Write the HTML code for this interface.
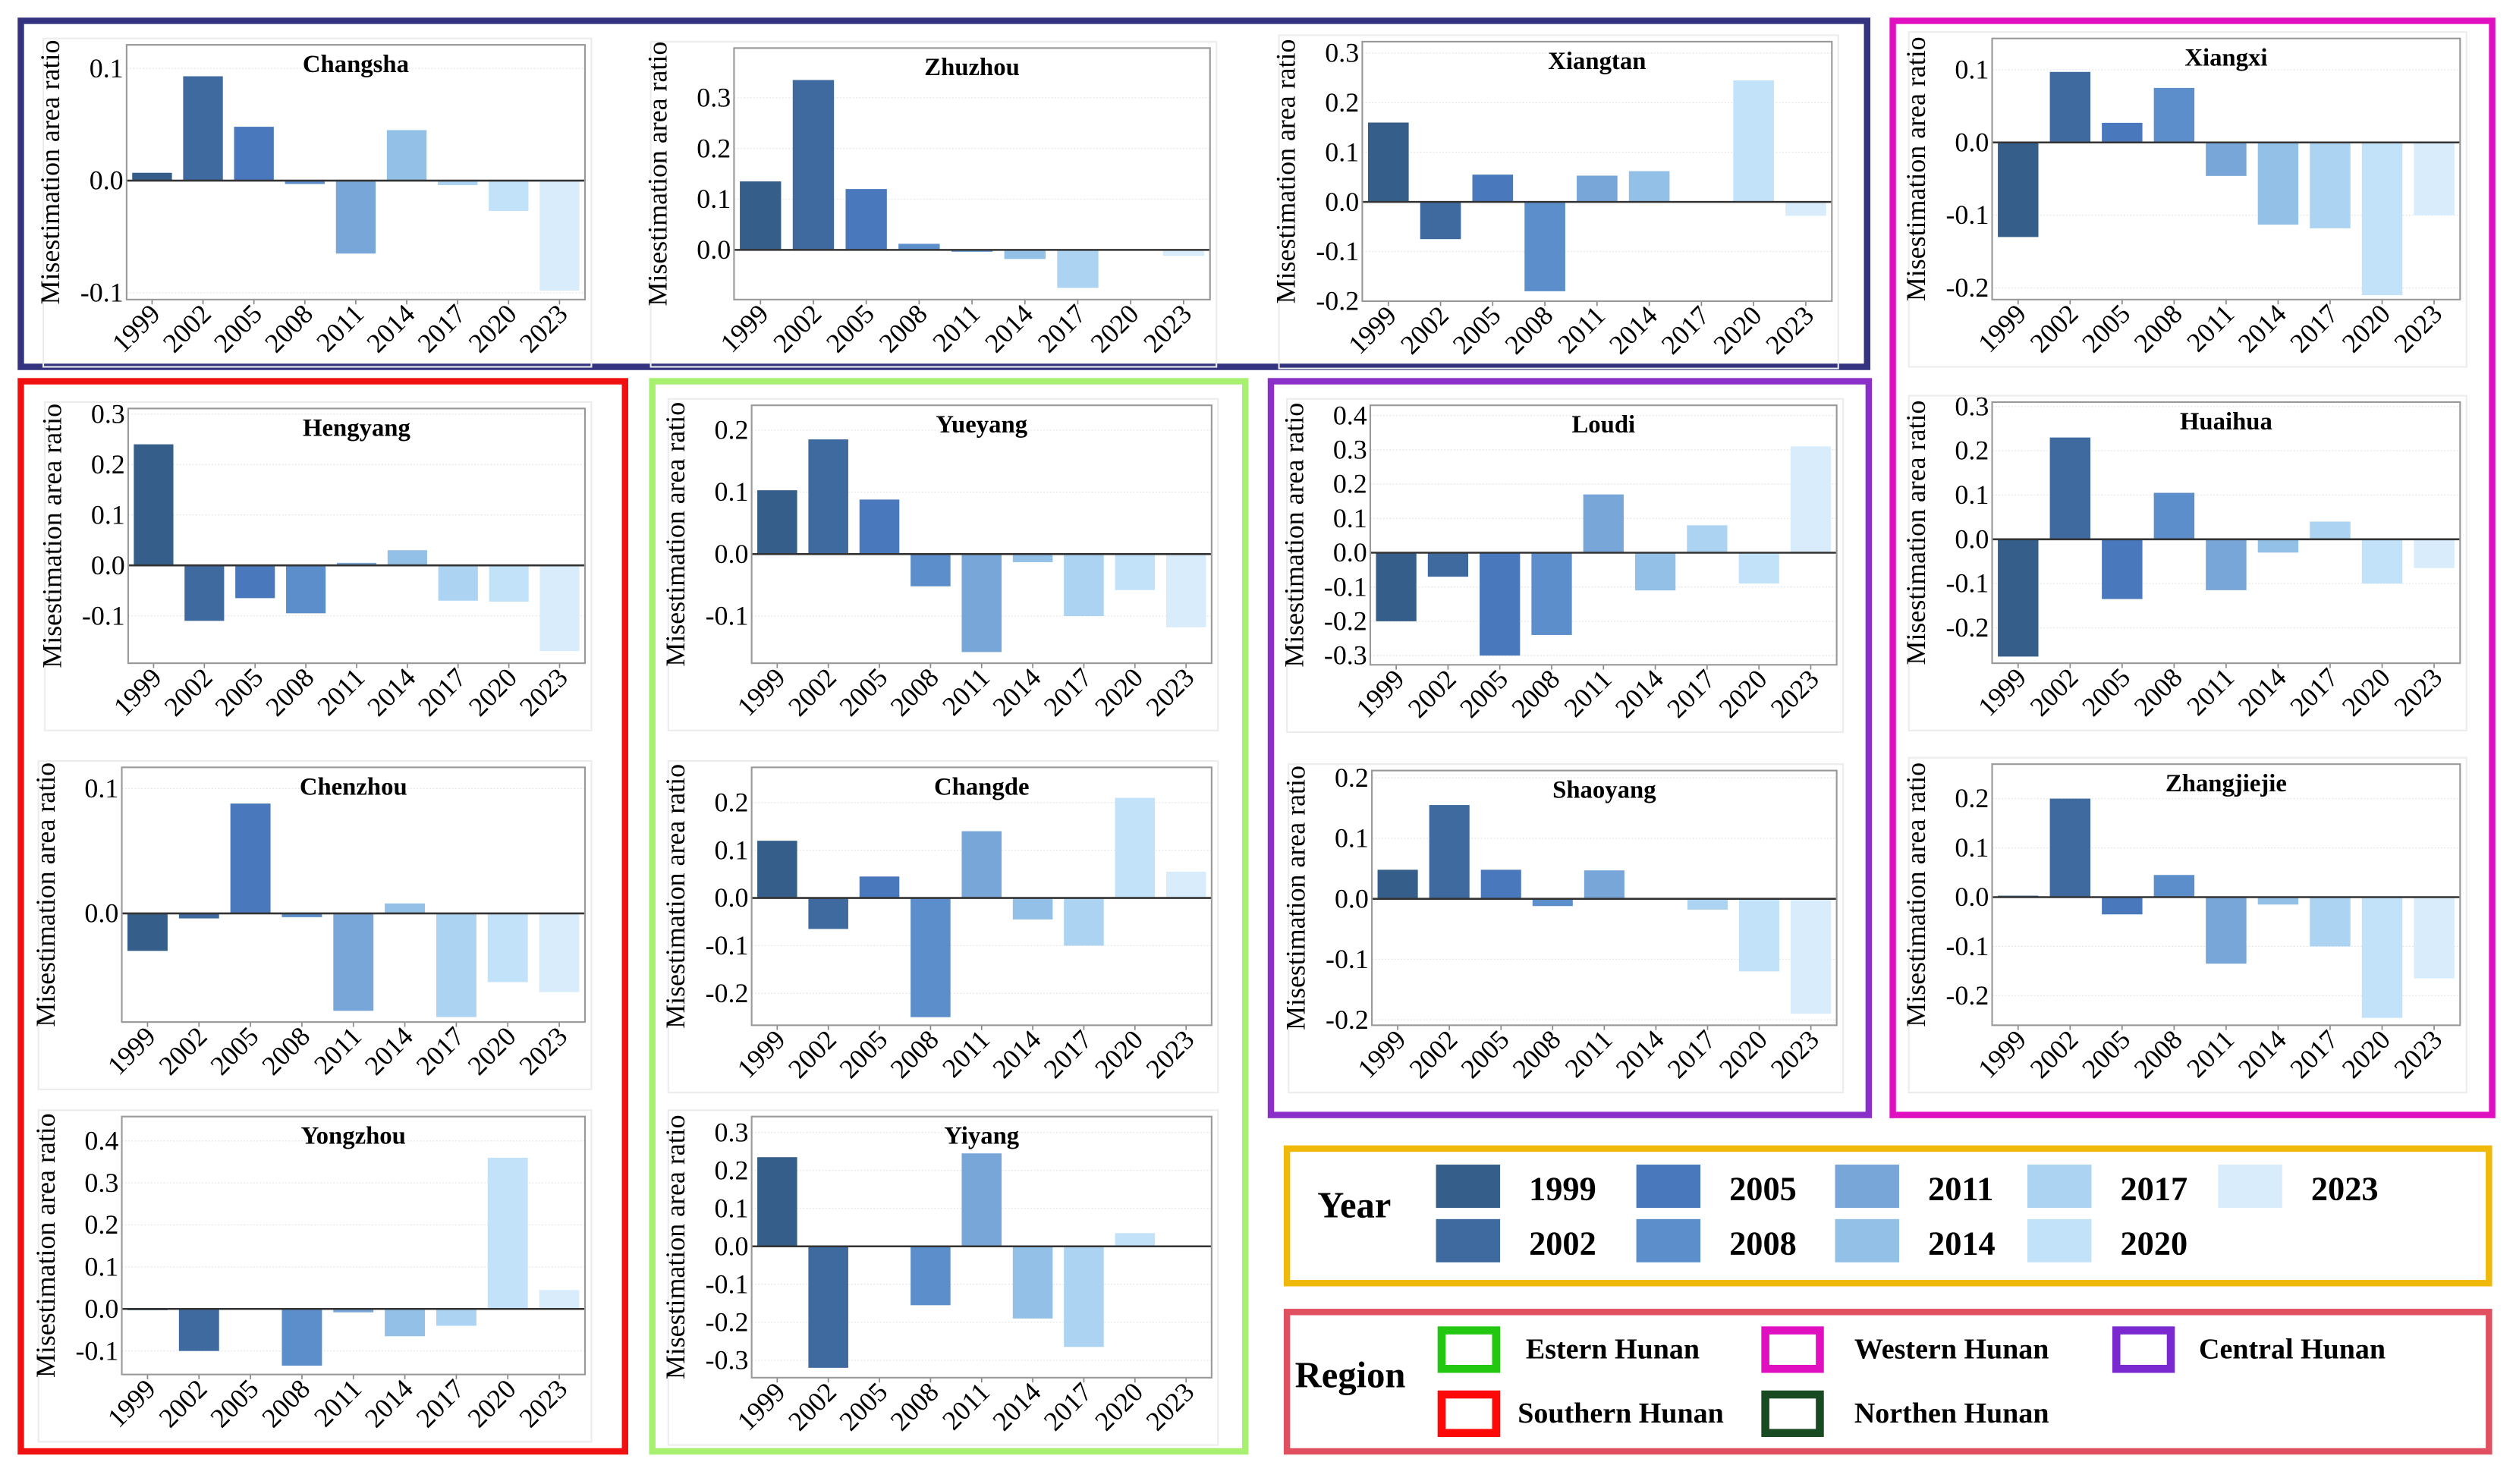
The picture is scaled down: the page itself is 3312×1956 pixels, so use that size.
<!DOCTYPE html>
<html><head><meta charset="utf-8"><style>
html,body{margin:0;padding:0;background:#fff;}
svg, svg text{font-family:"Liberation Serif","DejaVu Serif",serif;}
</style></head><body>
<svg id="fig" width="3312" height="1951" viewBox="0 0 1568 924" preserveAspectRatio="none" xmlns="http://www.w3.org/2000/svg" font-family="Liberation Serif, serif">
<rect x="0" y="0" width="1568" height="924" fill="#fff"/>
<g id="frames" fill="none" stroke-width="4">
<rect x="13" y="13" width="1152" height="216" stroke="#33337f"/>
<rect x="1181" y="13" width="374" height="683" stroke="#e010c0"/>
<rect x="13" y="238" width="377" height="668" stroke="#f01010"/>
<rect x="407" y="238" width="370" height="668" stroke="#a8f070"/>
<rect x="793" y="238" width="373" height="458" stroke="#8a30c8"/>
<rect x="803" y="717" width="750" height="84" stroke="#f0b808"/>
<rect x="803" y="819" width="750" height="87" stroke="#e05060"/>
</g>
<g id="panels"></g>
<g id="legend" font-weight="bold" fill="#000">
<text x="822" y="760" font-size="23" font-family="Liberation Serif, serif">Year</text>
<text x="808" y="866" font-size="23" font-family="Liberation Serif, serif">Region</text>
</g>
</svg>
<script>
const years = ["1999","2002","2005","2008","2011","2014","2017","2020","2023"];
const colors = ["#355f8a","#3e6aa0","#4a78bc","#5b8ecb","#78a6d8","#92c0e6","#acd4f2","#c2e2fa","#d8ecfb"];
const cities = ["Changsha","Zhuzhou","Xiangtan","Xiangxi","Hengyang","Yueyang","Loudi","Huaihua","Chenzhou","Changde","Shaoyang","Zhangjiejie","Yongzhou","Yiyang"];
const valChangsha = [0.007,0.093,0.048,-0.003,-0.065,0.045,-0.004,-0.027,-0.098];
const valZhuzhou = [0.135,0.335,0.12,0.012,-0.004,-0.018,-0.075,0,-0.012];
const valXiangtan = [0.16,-0.075,0.055,-0.18,0.053,0.062,0,0.245,-0.028];
const valXiangxi = [-0.13,0.097,0.027,0.075,-0.046,-0.113,-0.118,-0.21,-0.10];
const valHengyang = [0.24,-0.11,-0.065,-0.095,0.005,0.03,-0.07,-0.072,-0.17];
const valYueyang = [0.103,0.185,0.088,-0.052,-0.158,-0.013,-0.10,-0.058,-0.118];
const valLoudi = [-0.20,-0.07,-0.30,-0.24,0.17,-0.11,0.08,-0.09,0.31];
const valHuaihua = [-0.265,0.23,-0.135,0.105,-0.115,-0.03,0.04,-0.10,-0.065];
const valChenzhou = [-0.03,-0.004,0.088,-0.003,-0.078,0.008,-0.083,-0.055,-0.063];
const valChangde = [0.12,-0.065,0.045,-0.25,0.14,-0.045,-0.10,0.21,0.055];
const valShaoyang = [0.048,0.155,0.048,-0.012,0.047,0,-0.018,-0.12,-0.19];
const valZhangjiejie = [0.003,0.20,-0.035,0.045,-0.135,-0.015,-0.10,-0.245,-0.165];
const valYongzhou = [-0.003,-0.10,-0.002,-0.135,-0.008,-0.065,-0.04,0.36,0.045];
const valYiyang = [0.235,-0.32,0,-0.155,0.245,-0.19,-0.265,0.035,0.003];
const seriesValues = [valChangsha,valZhuzhou,valXiangtan,valXiangxi,valHengyang,valYueyang,valLoudi,valHuaihua,valChenzhou,valChangde,valShaoyang,valZhangjiejie,valYongzhou,valYiyang];
const yDomains = [[-0.106,0.121],[-0.098,0.398],[-0.2,0.323],[-0.216,0.143],[-0.194,0.311],[-0.176,0.24],[-0.327,0.43],[-0.28,0.31],[-0.087,0.117],[-0.267,0.274],[-0.209,0.212],[-0.26,0.27],[-0.156,0.458],[-0.346,0.342]];
const tickLabels = [["-0.1","0.0","0.1"],["0.0","0.1","0.2","0.3"],["-0.2","-0.1","0.0","0.1","0.2","0.3"],["-0.2","-0.1","0.0","0.1"],["-0.1","0.0","0.1","0.2","0.3"],["-0.1","0.0","0.1","0.2"],["-0.3","-0.2","-0.1","0.0","0.1","0.2","0.3","0.4"],["-0.2","-0.1","0.0","0.1","0.2","0.3"],["0.0","0.1"],["-0.2","-0.1","0.0","0.1","0.2"],["-0.2","-0.1","0.0","0.1","0.2"],["-0.2","-0.1","0.0","0.1","0.2"],["-0.1","0.0","0.1","0.2","0.3","0.4"],["-0.3","-0.2","-0.1","0.0","0.1","0.2","0.3"]];
const boxes = [[79,28,365,187],[458,30,755,187],[850,26,1143,188],[1243,24,1535,187],[80,255,365,414],[469,253,756,414],[855,253,1146,415],[1243,251,1535,414],[76,479,365,638],[469,479,756,640],[856,481,1146,640],[1243,477,1535,640],[76,697,365,858],[469,697,756,860]];
const NS="http://www.w3.org/2000/svg";
const FF="Liberation Serif, DejaVu Serif, serif";
function mk(tag,attrs,parent){const e=document.createElementNS(NS,tag);for(const k in attrs)e.setAttribute(k,attrs[k]);if(tag==='text')e.setAttribute('font-family',FF);parent.appendChild(e);return e;}
const panels=document.getElementById('panels');
cities.forEach((city,i)=>{
  const [x0,y0,x1,y1]=boxes[i];const [d0,d1]=yDomains[i];
  const ys=v=>y1-(v-d0)/(d1-d0)*(y1-y0);
  const g=mk('g',{},panels);
  
  
  const outer=mk('rect',{x:x0-52,y:y0-4,width:x1-x0+56,height:y1-y0+46,fill:'none',stroke:'#ececec','stroke-width':1},g);
  
  
  tickLabels[i].forEach(t=>{
    const v=parseFloat(t);const y=ys(v);
    const gl=mk('line',{x1:x0,x2:x1,y1:y,y2:y,stroke:'#e8e8e8','stroke-width':0.6,'stroke-dasharray':'1,1'},g);
    
    
    const tl=mk('text',{x:x0-2,y:y+5.5,'text-anchor':'end','font-size':17},g);
    tl.textContent=t;
    
    
  });
  const bw=(x1-x0)/9;
  seriesValues[i].forEach((v,j)=>{
    const cx=x0+bw*(j+0.5);const yz=ys(0),yv=ys(v);
    const r=mk('rect',{x:cx-bw*0.39,y:Math.min(yz,yv),width:bw*0.78,height:Math.max(0.3,Math.abs(yv-yz)),fill:colors[j]},g);
    
    
    const tk=mk('line',{x1:cx,x2:cx,y1:y1,y2:y1+3,stroke:'#888','stroke-width':0.8},g);
    
    
    const xl=mk('text',{x:0,y:0,'text-anchor':'end','font-size':17,transform:`translate(${cx+6},${y1+10}) rotate(-45)`},g);
    xl.textContent=years[j];
    
    
  });
  const zl=mk('line',{x1:x0,x2:x1,y1:ys(0),y2:ys(0),stroke:'#333','stroke-width':1.2},g);
  
  
  const ax=mk('rect',{x:x0,y:y0,width:x1-x0,height:y1-y0,fill:'none',stroke:'#999','stroke-width':1},g);
  
  
  const ti=mk('text',{x:(x0+x1)/2,y:y0+17,'text-anchor':'middle','font-size':15.5,'font-weight':'bold'},g);
  ti.textContent=city;
  
  
  const yl=mk('text',{x:0,y:0,'text-anchor':'middle','font-size':17,transform:`translate(${x0-42},${(y0+y1)/2}) rotate(-90)`},g);
  yl.textContent='Misestimation area ratio';
  
  
});
const lg=document.getElementById('legend');
const legX=[896,1021,1145,1265,1384];
years.forEach((yr,j)=>{
  const col=Math.floor(j/2),row=j%2;
  const sx=legX[col],sy=row?761:727;
  const s=mk('rect',{x:sx,y:sy,width:40,height:27,fill:colors[j]},lg);
  
  
  const t=mk('text',{x:sx+58,y:sy+22,'font-size':21},lg);
  t.textContent=yr;
  
  
});
const regNames=["Estern Hunan","Western Hunan","Central Hunan","Southern Hunan","Northen Hunan"];
const regColors=["#22c810","#e010c0","#7a28d0","#ff0808","#1a4a22"];
const regPos=[[897,828,952],[1099,828,1157],[1318,828,1372],[897,868,947],[1099,868,1157]];
regNames.forEach((n,k)=>{
  const [sx,sy,tx]=regPos[k];
  const s=mk('rect',{x:sx+2.5,y:sy+2.5,width:34,height:24,fill:'#fff',stroke:regColors[k],'stroke-width':5},lg);
  
  
  const t=mk('text',{x:tx,y:sy+20,'font-size':18},lg);
  t.textContent=n;
  
  
});
</script>
</body></html>
